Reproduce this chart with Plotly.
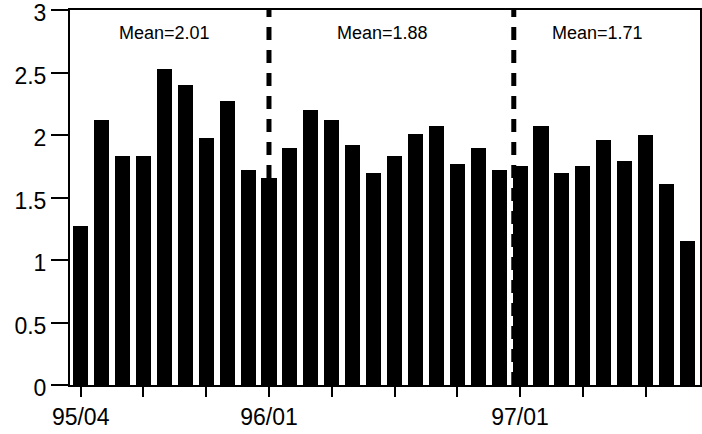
import plotly.graph_objects as go

months = ["95/04", "95/05", "95/06", "95/07", "95/08", "95/09", "95/10", "95/11", "95/12",
          "96/01", "96/02", "96/03", "96/04", "96/05", "96/06", "96/07", "96/08", "96/09",
          "96/10", "96/11", "96/12",
          "97/01", "97/02", "97/03", "97/04", "97/05", "97/06", "97/07", "97/08", "97/09"]
values = [1.27, 2.12, 1.83, 1.83, 2.53, 2.40, 1.98, 2.27, 1.72,
          1.66, 1.90, 2.20, 2.12, 1.92, 1.70, 1.83, 2.01, 2.07,
          1.77, 1.90, 1.72,
          1.75, 2.07, 1.70, 1.75, 1.96, 1.79, 2.00, 1.61, 1.15]
labeled = ["95/04", "96/01", "97/01"]
mean_labels = ["Mean=2.01", "Mean=1.88", "Mean=1.71"]
mean_x = [4.02, 14.42, 24.68]
divider_x = [9, 20.7]

tickvals = months[::3]
ticktext = [m if m in labeled else "" for m in tickvals]

font_family = "Liberation Sans, Arial, sans-serif"

fig = go.Figure()
fig.add_trace(go.Bar(x=months, y=values, width=0.72,
                     marker=dict(color="black", line=dict(width=0))))

for dx in divider_x:
    fig.add_shape(type="line", x0=dx, x1=dx, y0=0, y1=3, xref="x", yref="y",
                  layer="below", line=dict(color="black", width=5, dash="13px,10px"))

for lbl, mx in zip(mean_labels, mean_x):
    fig.add_annotation(x=mx, y=2.816, text=lbl, showarrow=False,
                       font=dict(size=18, color="black", family=font_family))

fig.update_layout(
    width=702, height=434,
    margin=dict(l=70, r=2, t=10, b=49, autoexpand=False),
    paper_bgcolor="white", plot_bgcolor="white",
    showlegend=False, bargap=0,
    font=dict(family=font_family, color="black", size=23),
)
fig.update_xaxes(
    type="category", range=[-0.51, 29.6], automargin=False,
    tickmode="array", tickvals=tickvals, ticktext=ticktext,
    ticks="outside", ticklen=10, tickwidth=2, tickcolor="black",
    showline=True, linewidth=2, linecolor="black", mirror=True,
    showgrid=False, zeroline=False, tickfont=dict(size=23),
    ticklabeloverflow="allow",
)
fig.update_yaxes(
    range=[0, 3], automargin=False, tickmode="array", tickvals=[0, 0.5, 1, 1.5, 2, 2.5, 3],
    ticktext=["0", "0.5", "1", "1.5", "2", "2.5", "3"],
    ticks="outside", ticklen=17, tickwidth=2, tickcolor="black",
    showline=True, linewidth=2, linecolor="black", mirror=True,
    showgrid=False, zeroline=False, tickfont=dict(size=23),
    ticklabeloverflow="allow", ticklabelshift=3,
)

fig.write_html("out.html", config={"displayModeBar": False},
               post_script="document.body.style.margin='0px';document.body.style.overflow='hidden';")
